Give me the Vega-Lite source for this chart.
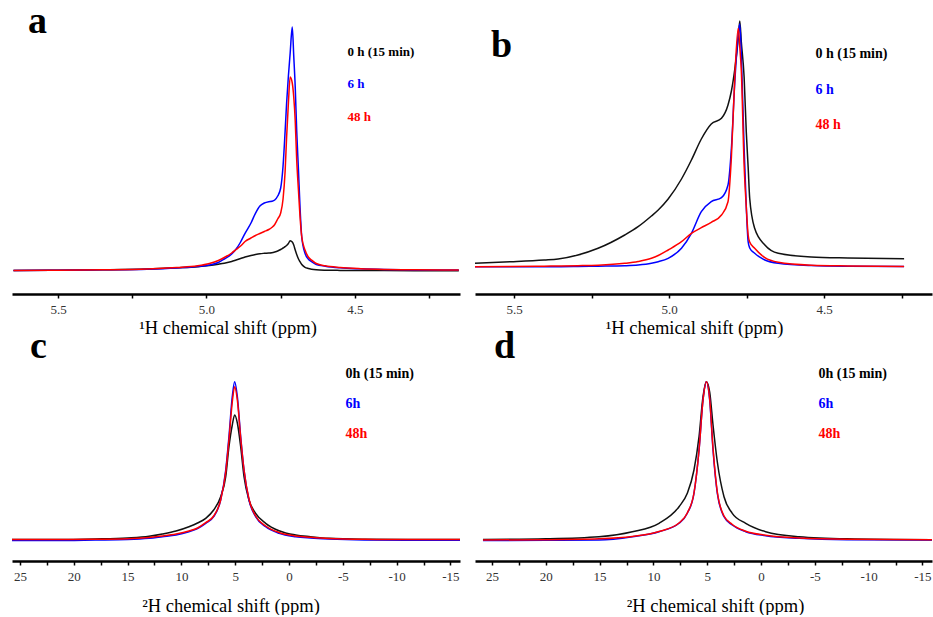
{
"$schema":"https://vega.github.io/schema/vega-lite/v6.json",
"padding":{"left":9,"top":3,"right":0,"bottom":0},
"background":"white",
"config":{
 "view":{"stroke":null},
 "font":"Liberation Serif",
 "axis":{"domainColor":"#000","domainWidth":2.5,"tickColor":"#000","tickWidth":1.5,"tickSize":4,"labelFont":"Liberation Serif","labelFontSize":13,"labelColor":"#333","labelPadding":5,"labelFlush":false,"labelOverlap":false,"titleFont":"Liberation Serif","titleFontSize":18.5,"titleFontWeight":"normal","titleColor":"#000","grid":false},
 "legend":{"orient":"none","title":null,"padding":0,"symbolSize":0,"symbolOpacity":0,"symbolStrokeWidth":0,"labelOffset":0,"labelFont":"Liberation Serif","labelFontWeight":"bold","labelLimit":200},
 "title":{"anchor":"start","frame":"group","font":"Liberation Serif","fontSize":38,"fontWeight":"bold","color":"#000","baseline":"alphabetic"}
},
"concat":[
 {"width":448,"height":284,"data":{"name":"a"},
  "title":{"text":"a","dx":16,"offset":-31},
  "mark":{"type":"line","strokeWidth":1.5,"interpolate":"monotone"},
  "encoding":{
   "x":{"field":"x","type":"quantitative","scale":{"domain":[4.146,5.655],"reverse":true,"nice":false,"zero":false},
        "axis":{"values":[5.5,5.25,5,4.75,4.5,4.25],"labelExpr":"abs(datum.value*2 - round(datum.value*2)) < 0.001 ? format(datum.value, '.1f') : ''","title":"¹H chemical shift (ppm)","titlePadding":2,"titleX":215.5}},
   "y":{"field":"y","type":"quantitative","scale":{"domain":[-23,261],"nice":false,"zero":false},"axis":null},
   "color":{"field":"s","type":"nominal","scale":{"domain":["k","b","r"],"range":["#111111","#0000ff","#ff0000"]},
     "legend":{"legendX":322.5,"legendY":35,"labelFontSize":13,"rowPadding":18.5,"labelExpr":"datum.label == 'k' ? '0 h (15 min)' : datum.label == 'b' ? '6 h' : '48 h'","labelColor":{"expr":"datum.value == 'b' ? '#0000ff' : datum.value == 'r' ? '#ff0000' : '#000000'"}}}
  }},
 {"width":457,"height":284,"data":{"name":"b"},
  "title":{"text":"b","dx":16,"offset":-55},
  "mark":{"type":"line","strokeWidth":1.5,"interpolate":"monotone"},
  "encoding":{
   "x":{"field":"x","type":"quantitative","scale":{"domain":[4.152,5.626],"reverse":true,"nice":false,"zero":false},
        "axis":{"values":[5.5,5.25,5,4.75,4.5,4.25],"labelExpr":"abs(datum.value*2 - round(datum.value*2)) < 0.001 ? format(datum.value, '.1f') : ''","title":"¹H chemical shift (ppm)","titlePadding":2,"titleX":219}},
   "y":{"field":"y","type":"quantitative","scale":{"domain":[-27,257],"nice":false,"zero":false},"axis":null},
   "color":{"field":"s","type":"nominal","scale":{"domain":["k","b","r"],"range":["#111111","#0000ff","#ff0000"]},
     "legend":{"legendX":326.5,"legendY":37,"labelFontSize":14,"rowPadding":21.5,"labelExpr":"datum.label == 'k' ? '0 h (15 min)' : datum.label == 'b' ? '6 h' : '48 h'","labelColor":{"expr":"datum.value == 'b' ? '#0000ff' : datum.value == 'r' ? '#ff0000' : '#000000'"}}}
  }},
 {"width":448,"height":231,"data":{"name":"c"},
  "title":{"text":"c","dx":18,"offset":-36},
  "mark":{"type":"line","strokeWidth":1.5,"interpolate":"monotone"},
  "encoding":{
   "x":{"field":"x","type":"quantitative","scale":{"domain":[-15.89,25.74],"reverse":true,"nice":false,"zero":false},
        "axis":{"values":[25,22.5,20,17.5,15,12.5,10,7.5,5,2.5,0,-2.5,-5,-7.5,-10,-12.5,-15],"labelExpr":"datum.value % 5 == 0 ? '' + datum.value : ''","title":"²H chemical shift (ppm)","titlePadding":13,"titleX":218.5}},
   "y":{"field":"y","type":"quantitative","scale":{"domain":[-21,210],"nice":false,"zero":false},"axis":null},
   "color":{"field":"s","type":"nominal","scale":{"domain":["k","b","r"],"range":["#111111","#0000ff","#ff0000"]},
     "legend":{"legendX":319.5,"legendY":37,"labelFontSize":14,"rowPadding":16,"labelExpr":"datum.label == 'k' ? '0h (15 min)' : datum.label == 'b' ? '6h' : '48h'","labelColor":{"expr":"datum.value == 'b' ? '#0000ff' : datum.value == 'r' ? '#ff0000' : '#000000'"}}}
  }},
 {"width":457,"height":231,"data":{"name":"d"},
  "title":{"text":"d","dx":19,"offset":-36},
  "mark":{"type":"line","strokeWidth":1.5,"interpolate":"monotone"},
  "encoding":{
   "x":{"field":"x","type":"quantitative","scale":{"domain":[-15.89,26.58],"reverse":true,"nice":false,"zero":false},
        "axis":{"values":[25,22.5,20,17.5,15,12.5,10,7.5,5,2.5,0,-2.5,-5,-7.5,-10,-12.5,-15],"labelExpr":"datum.value % 5 == 0 ? '' + datum.value : ''","title":"²H chemical shift (ppm)","titlePadding":13,"titleX":240}},
   "y":{"field":"y","type":"quantitative","scale":{"domain":[-21,210],"nice":false,"zero":false},"axis":null},
   "color":{"field":"s","type":"nominal","scale":{"domain":["k","b","r"],"range":["#111111","#0000ff","#ff0000"]},
     "legend":{"legendX":329.5,"legendY":37,"labelFontSize":14,"rowPadding":16,"labelExpr":"datum.label == 'k' ? '0h (15 min)' : datum.label == 'b' ? '6h' : '48h'","labelColor":{"expr":"datum.value == 'b' ? '#0000ff' : datum.value == 'r' ? '#ff0000' : '#000000'"}}}
  }}
],
"columns":2,
"spacing":{"row":36,"column":15},
"bounds":"flush",
"align":"each",
"resolve":{"scale":{"color":"independent"},"legend":{"color":"independent"}},
"datasets":{
"a":[
{"s":"k","x":5.65,"y":0.5},{"s":"k","x":5.5,"y":0.8},{"s":"k","x":5.35,"y":1.2},{"s":"k","x":5.2,"y":2},{"s":"k","x":5.1,"y":3.2},{"s":"k","x":5.03,"y":4.3},{"s":"k","x":4.99,"y":5.5},{"s":"k","x":4.96,"y":6.8},{"s":"k","x":4.94,"y":7.8},{"s":"k","x":4.915,"y":9.5},{"s":"k","x":4.9,"y":11},{"s":"k","x":4.885,"y":12.5},{"s":"k","x":4.87,"y":14},{"s":"k","x":4.85,"y":15.5},{"s":"k","x":4.835,"y":16.5},{"s":"k","x":4.82,"y":17.3},{"s":"k","x":4.805,"y":17.7},{"s":"k","x":4.79,"y":18},{"s":"k","x":4.78,"y":18.3},{"s":"k","x":4.77,"y":19},{"s":"k","x":4.76,"y":20},{"s":"k","x":4.75,"y":21.5},{"s":"k","x":4.742,"y":23},{"s":"k","x":4.735,"y":24.3},{"s":"k","x":4.73,"y":25.5},{"s":"k","x":4.724,"y":27.5},{"s":"k","x":4.718,"y":30.3},{"s":"k","x":4.711,"y":29},{"s":"k","x":4.706,"y":26},{"s":"k","x":4.701,"y":21},{"s":"k","x":4.696,"y":16.5},{"s":"k","x":4.69,"y":12},{"s":"k","x":4.685,"y":9.3},{"s":"k","x":4.679,"y":6.5},{"s":"k","x":4.668,"y":3.7},{"s":"k","x":4.657,"y":2.5},{"s":"k","x":4.646,"y":1.8},{"s":"k","x":4.63,"y":1.2},{"s":"k","x":4.6,"y":0.8},{"s":"k","x":4.55,"y":0.6},{"s":"k","x":4.48,"y":0.5},{"s":"k","x":4.4,"y":0.4},{"s":"k","x":4.3,"y":0.3},{"s":"k","x":4.2,"y":0.3},{"s":"k","x":4.15,"y":0.3},
{"s":"b","x":5.65,"y":0.5},{"s":"b","x":5.5,"y":0.8},{"s":"b","x":5.35,"y":1.2},{"s":"b","x":5.2,"y":1.8},{"s":"b","x":5.1,"y":3},{"s":"b","x":5.03,"y":4.5},{"s":"b","x":4.99,"y":6},{"s":"b","x":4.96,"y":8.5},{"s":"b","x":4.94,"y":12},{"s":"b","x":4.915,"y":17},{"s":"b","x":4.9,"y":22},{"s":"b","x":4.885,"y":29},{"s":"b","x":4.87,"y":37.7},{"s":"b","x":4.85,"y":48},{"s":"b","x":4.835,"y":57.7},{"s":"b","x":4.82,"y":65},{"s":"b","x":4.805,"y":68},{"s":"b","x":4.79,"y":69.3},{"s":"b","x":4.78,"y":69.7},{"s":"b","x":4.77,"y":71},{"s":"b","x":4.76,"y":75},{"s":"b","x":4.75,"y":83},{"s":"b","x":4.742,"y":105},{"s":"b","x":4.735,"y":140},{"s":"b","x":4.73,"y":168},{"s":"b","x":4.724,"y":195},{"s":"b","x":4.718,"y":218},{"s":"b","x":4.711,"y":244},{"s":"b","x":4.706,"y":215},{"s":"b","x":4.701,"y":184},{"s":"b","x":4.696,"y":140},{"s":"b","x":4.69,"y":100},{"s":"b","x":4.685,"y":65},{"s":"b","x":4.679,"y":34},{"s":"b","x":4.668,"y":17.7},{"s":"b","x":4.657,"y":12},{"s":"b","x":4.646,"y":9.3},{"s":"b","x":4.63,"y":6.5},{"s":"b","x":4.6,"y":4.8},{"s":"b","x":4.55,"y":3.2},{"s":"b","x":4.48,"y":2.2},{"s":"b","x":4.4,"y":1.5},{"s":"b","x":4.3,"y":1.1},{"s":"b","x":4.2,"y":0.9},{"s":"b","x":4.15,"y":0.9},
{"s":"r","x":5.65,"y":0.5},{"s":"r","x":5.5,"y":0.8},{"s":"r","x":5.35,"y":1.2},{"s":"r","x":5.2,"y":2},{"s":"r","x":5.1,"y":3.5},{"s":"r","x":5.03,"y":5.2},{"s":"r","x":4.99,"y":7.5},{"s":"r","x":4.96,"y":10.5},{"s":"r","x":4.94,"y":13.5},{"s":"r","x":4.915,"y":18},{"s":"r","x":4.9,"y":21.5},{"s":"r","x":4.885,"y":25},{"s":"r","x":4.87,"y":29.5},{"s":"r","x":4.85,"y":33},{"s":"r","x":4.835,"y":35.5},{"s":"r","x":4.82,"y":37.5},{"s":"r","x":4.805,"y":39.5},{"s":"r","x":4.79,"y":41.5},{"s":"r","x":4.78,"y":43.5},{"s":"r","x":4.77,"y":46.5},{"s":"r","x":4.76,"y":52},{"s":"r","x":4.75,"y":58},{"s":"r","x":4.742,"y":72},{"s":"r","x":4.735,"y":100},{"s":"r","x":4.73,"y":134},{"s":"r","x":4.724,"y":168},{"s":"r","x":4.718,"y":194},{"s":"r","x":4.711,"y":188},{"s":"r","x":4.706,"y":174},{"s":"r","x":4.701,"y":150},{"s":"r","x":4.696,"y":111},{"s":"r","x":4.69,"y":80},{"s":"r","x":4.685,"y":55},{"s":"r","x":4.679,"y":34},{"s":"r","x":4.668,"y":21},{"s":"r","x":4.657,"y":14},{"s":"r","x":4.646,"y":11},{"s":"r","x":4.63,"y":7.5},{"s":"r","x":4.6,"y":5.2},{"s":"r","x":4.55,"y":3.5},{"s":"r","x":4.48,"y":2.3},{"s":"r","x":4.4,"y":1.6},{"s":"r","x":4.3,"y":1.2},{"s":"r","x":4.2,"y":1},{"s":"r","x":4.15,"y":1}
],
"b":[
{"s":"k","x":5.626,"y":3.8},{"s":"k","x":5.51,"y":5.3},{"s":"k","x":5.403,"y":7},{"s":"k","x":5.358,"y":8},{"s":"k","x":5.294,"y":12},{"s":"k","x":5.229,"y":18.7},{"s":"k","x":5.143,"y":32},{"s":"k","x":5.1,"y":40.3},{"s":"k","x":5.057,"y":51},{"s":"k","x":5.035,"y":57},{"s":"k","x":5.003,"y":68},{"s":"k","x":4.96,"y":88},{"s":"k","x":4.928,"y":107},{"s":"k","x":4.896,"y":128},{"s":"k","x":4.864,"y":143},{"s":"k","x":4.831,"y":148.7},{"s":"k","x":4.81,"y":162},{"s":"k","x":4.799,"y":176},{"s":"k","x":4.788,"y":198},{"s":"k","x":4.777,"y":228},{"s":"k","x":4.772,"y":246},{"s":"k","x":4.767,"y":225},{"s":"k","x":4.758,"y":190},{"s":"k","x":4.751,"y":135},{"s":"k","x":4.745,"y":100},{"s":"k","x":4.74,"y":68.7},{"s":"k","x":4.724,"y":38.7},{"s":"k","x":4.691,"y":22},{"s":"k","x":4.648,"y":13.7},{"s":"k","x":4.542,"y":10},{"s":"k","x":4.423,"y":9},{"s":"k","x":4.242,"y":8.3},
{"s":"b","x":5.626,"y":0.3},{"s":"b","x":5.51,"y":0.3},{"s":"b","x":5.403,"y":0.3},{"s":"b","x":5.358,"y":0.3},{"s":"b","x":5.294,"y":0.5},{"s":"b","x":5.229,"y":0.8},{"s":"b","x":5.143,"y":1.3},{"s":"b","x":5.1,"y":2},{"s":"b","x":5.057,"y":3.7},{"s":"b","x":5.035,"y":5.3},{"s":"b","x":5.003,"y":8.7},{"s":"b","x":4.96,"y":18.7},{"s":"b","x":4.928,"y":33.7},{"s":"b","x":4.896,"y":55.3},{"s":"b","x":4.864,"y":65.3},{"s":"b","x":4.831,"y":69.3},{"s":"b","x":4.81,"y":82},{"s":"b","x":4.799,"y":118.7},{"s":"b","x":4.788,"y":185.3},{"s":"b","x":4.777,"y":232},{"s":"b","x":4.772,"y":243},{"s":"b","x":4.767,"y":212},{"s":"b","x":4.758,"y":119},{"s":"b","x":4.751,"y":60},{"s":"b","x":4.745,"y":25.3},{"s":"b","x":4.74,"y":19},{"s":"b","x":4.724,"y":13.7},{"s":"b","x":4.691,"y":7},{"s":"b","x":4.648,"y":3.7},{"s":"b","x":4.542,"y":1.5},{"s":"b","x":4.423,"y":0.8},{"s":"b","x":4.242,"y":0.5},
{"s":"r","x":5.626,"y":0.3},{"s":"r","x":5.51,"y":0.4},{"s":"r","x":5.403,"y":0.8},{"s":"r","x":5.358,"y":1},{"s":"r","x":5.294,"y":1.3},{"s":"r","x":5.229,"y":1.8},{"s":"r","x":5.143,"y":3.7},{"s":"r","x":5.1,"y":5.5},{"s":"r","x":5.057,"y":8.7},{"s":"r","x":5.035,"y":11.5},{"s":"r","x":5.003,"y":17},{"s":"r","x":4.96,"y":25.3},{"s":"r","x":4.928,"y":33.7},{"s":"r","x":4.896,"y":39.3},{"s":"r","x":4.864,"y":44.7},{"s":"r","x":4.831,"y":52},{"s":"r","x":4.81,"y":65.3},{"s":"r","x":4.799,"y":110},{"s":"r","x":4.788,"y":190},{"s":"r","x":4.777,"y":238.7},{"s":"r","x":4.772,"y":220},{"s":"r","x":4.767,"y":196},{"s":"r","x":4.758,"y":102},{"s":"r","x":4.751,"y":60},{"s":"r","x":4.745,"y":32},{"s":"r","x":4.74,"y":25},{"s":"r","x":4.724,"y":18.7},{"s":"r","x":4.691,"y":9.3},{"s":"r","x":4.648,"y":4.7},{"s":"r","x":4.542,"y":1.8},{"s":"r","x":4.423,"y":1},{"s":"r","x":4.242,"y":0.5}
],
"c":[
{"s":"k","x":25.74,"y":0.5},{"s":"k","x":22,"y":0.5},{"s":"k","x":18,"y":1},{"s":"k","x":15,"y":2},{"s":"k","x":13,"y":3.7},{"s":"k","x":11.77,"y":6},{"s":"k","x":10.5,"y":9},{"s":"k","x":9.3,"y":13.3},{"s":"k","x":8.5,"y":17},{"s":"k","x":7.74,"y":21.7},{"s":"k","x":7,"y":30},{"s":"k","x":6.35,"y":43.3},{"s":"k","x":5.88,"y":63.3},{"s":"k","x":5.58,"y":93.3},{"s":"k","x":5.27,"y":115},{"s":"k","x":5.05,"y":125},{"s":"k","x":4.8,"y":117},{"s":"k","x":4.49,"y":93.3},{"s":"k","x":4.18,"y":63.3},{"s":"k","x":3.72,"y":40},{"s":"k","x":3.1,"y":26.7},{"s":"k","x":2.17,"y":16.7},{"s":"k","x":0.93,"y":9.3},{"s":"k","x":-0.62,"y":5},{"s":"k","x":-2,"y":3.3},{"s":"k","x":-3.7,"y":1.7},{"s":"k","x":-7,"y":0.8},{"s":"k","x":-11,"y":0.5},{"s":"k","x":-15.89,"y":0.5},
{"s":"b","x":25.74,"y":-0.5},{"s":"b","x":22,"y":-0.5},{"s":"b","x":18,"y":0},{"s":"b","x":15,"y":0.5},{"s":"b","x":13,"y":1.7},{"s":"b","x":11.77,"y":3.3},{"s":"b","x":10.5,"y":5},{"s":"b","x":9.3,"y":8.3},{"s":"b","x":8.5,"y":11.5},{"s":"b","x":7.74,"y":16.7},{"s":"b","x":7,"y":23.3},{"s":"b","x":6.35,"y":40},{"s":"b","x":5.88,"y":70},{"s":"b","x":5.58,"y":103.3},{"s":"b","x":5.27,"y":143.3},{"s":"b","x":5.05,"y":158.3},{"s":"b","x":4.8,"y":143.3},{"s":"b","x":4.49,"y":103.3},{"s":"b","x":4.18,"y":70},{"s":"b","x":3.72,"y":40},{"s":"b","x":3.1,"y":23.3},{"s":"b","x":2.17,"y":13.3},{"s":"b","x":0.93,"y":6.7},{"s":"b","x":-0.62,"y":3.3},{"s":"b","x":-2,"y":2},{"s":"b","x":-3.7,"y":1},{"s":"b","x":-7,"y":0},{"s":"b","x":-11,"y":-0.3},{"s":"b","x":-15.89,"y":-0.3},
{"s":"r","x":25.74,"y":0.5},{"s":"r","x":22,"y":0.5},{"s":"r","x":18,"y":0.7},{"s":"r","x":15,"y":1.2},{"s":"r","x":13,"y":2.5},{"s":"r","x":11.77,"y":4},{"s":"r","x":10.5,"y":6},{"s":"r","x":9.3,"y":9},{"s":"r","x":8.5,"y":12},{"s":"r","x":7.74,"y":17.3},{"s":"r","x":7,"y":24},{"s":"r","x":6.35,"y":40},{"s":"r","x":5.88,"y":68},{"s":"r","x":5.58,"y":100},{"s":"r","x":5.27,"y":138},{"s":"r","x":5.05,"y":153.3},{"s":"r","x":4.8,"y":140},{"s":"r","x":4.49,"y":102},{"s":"r","x":4.18,"y":70},{"s":"r","x":3.72,"y":41},{"s":"r","x":3.1,"y":24},{"s":"r","x":2.17,"y":14},{"s":"r","x":0.93,"y":7.5},{"s":"r","x":-0.62,"y":4},{"s":"r","x":-2,"y":2.7},{"s":"r","x":-3.7,"y":1.5},{"s":"r","x":-7,"y":0.7},{"s":"r","x":-11,"y":0.5},{"s":"r","x":-15.89,"y":0.5}
],
"d":[
{"s":"k","x":25.84,"y":0.5},{"s":"k","x":20,"y":1.2},{"s":"k","x":15.06,"y":3.3},{"s":"k","x":11.96,"y":8.3},{"s":"k","x":9.48,"y":16.7},{"s":"k","x":7.62,"y":33.3},{"s":"k","x":6.85,"y":46.7},{"s":"k","x":6.23,"y":70},{"s":"k","x":5.76,"y":103.3},{"s":"k","x":5.39,"y":143.3},{"s":"k","x":5.08,"y":158.3},{"s":"k","x":4.77,"y":148},{"s":"k","x":4.46,"y":115},{"s":"k","x":4.06,"y":78},{"s":"k","x":3.44,"y":43.3},{"s":"k","x":2.67,"y":26.7},{"s":"k","x":1.42,"y":16.7},{"s":"k","x":-0.43,"y":8.3},{"s":"k","x":-3.53,"y":3.3},{"s":"k","x":-8,"y":1.2},{"s":"k","x":-15.89,"y":0.3},
{"s":"b","x":25.84,"y":-0.5},{"s":"b","x":20,"y":-0.3},{"s":"b","x":15.06,"y":0},{"s":"b","x":11.96,"y":3.3},{"s":"b","x":9.48,"y":8.3},{"s":"b","x":7.62,"y":16.7},{"s":"b","x":6.85,"y":26.7},{"s":"b","x":6.23,"y":46.7},{"s":"b","x":5.76,"y":90},{"s":"b","x":5.39,"y":140},{"s":"b","x":5.08,"y":158.3},{"s":"b","x":4.77,"y":140},{"s":"b","x":4.46,"y":90},{"s":"b","x":4.06,"y":46.7},{"s":"b","x":3.44,"y":23.3},{"s":"b","x":2.67,"y":15},{"s":"b","x":1.42,"y":8.3},{"s":"b","x":-0.43,"y":4.3},{"s":"b","x":-3.53,"y":1.7},{"s":"b","x":-8,"y":0.3},{"s":"b","x":-15.89,"y":0},
{"s":"r","x":25.84,"y":0},{"s":"r","x":20,"y":0.3},{"s":"r","x":15.06,"y":1.2},{"s":"r","x":11.96,"y":3.5},{"s":"r","x":9.48,"y":8.5},{"s":"r","x":7.62,"y":17},{"s":"r","x":6.85,"y":27},{"s":"r","x":6.23,"y":47},{"s":"r","x":5.76,"y":90},{"s":"r","x":5.39,"y":140},{"s":"r","x":5.08,"y":158.3},{"s":"r","x":4.77,"y":141},{"s":"r","x":4.46,"y":92},{"s":"r","x":4.06,"y":48},{"s":"r","x":3.44,"y":24},{"s":"r","x":2.67,"y":15.5},{"s":"r","x":1.42,"y":8.8},{"s":"r","x":-0.43,"y":4.8},{"s":"r","x":-3.53,"y":2},{"s":"r","x":-8,"y":0.7},{"s":"r","x":-15.89,"y":0.3}
]
}
}
